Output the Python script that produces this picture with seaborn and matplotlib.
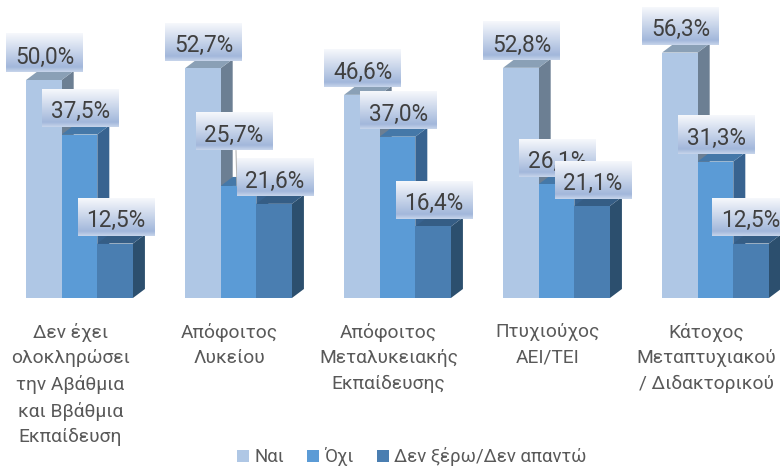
import matplotlib
matplotlib.use('Agg')
import matplotlib.pyplot as plt
from matplotlib.colors import LinearSegmentedColormap
from matplotlib.patches import Polygon
from matplotlib.transforms import ScaledTranslation
import numpy as np
import pandas as pd
import seaborn as sns

# data
education = ['Δεν έχει\nολοκληρώσει\nτην Αβάθμια\nκαι Ββάθμια\nΕκπαίδευση',
             'Απόφοιτος\nΛυκείου',
             'Απόφοιτος\nΜεταλυκειακής\nΕκπαίδευσης',
             'Πτυχιούχος\nΑΕΙ/ΤΕΙ',
             'Κάτοχος\nΜεταπτυχιακού\n/ Διδακτορικού']
answers = ['Ναι', 'Όχι', 'Δεν ξέρω/Δεν απαντώ']
yes = [50.0, 52.7, 46.6, 52.8, 56.3]
no = [37.5, 25.7, 37.0, 26.1, 31.3]
dont_know = [12.5, 21.6, 16.4, 21.1, 12.5]

front = ['#AFC7E5', '#5B9BD6', '#4A7EB1']
top = ['#8AA0B6', '#4578A8', '#355D85']
side = ['#6C7F93', '#386390', '#2C4F6E']

df = pd.DataFrame({'edu': education, answers[0]: yes, answers[1]: no, answers[2]: dont_know})
df = df.melt(id_vars='edu', var_name='answer', value_name='pct')

sns.set_theme(style='white')
plt.rcParams['font.family'] = ['Roboto', 'DejaVu Sans']

PX_X = 159.0   # pixels per category
PX_Y = 4.36    # pixels per percent
BASE = 298

fig = plt.figure(figsize=(7.8, 4.68), dpi=100)
ax = fig.add_axes([0, 1 - BASE / 468, 1, BASE / 468])
sns.barplot(data=df, x='edu', y='pct', hue='answer', order=education, hue_order=answers,
            palette=front, width=0.672, saturation=1, gap=0, linewidth=0, ax=ax, zorder=3)

ax.set_xlim(-79.5 / PX_X, (780 - 79.5) / PX_X)
ax.set_ylim(0, BASE / PX_Y)
dx = 12 / PX_X
dy = 9 / PX_Y

# labels moved away from their bar in the original: (series, group): px
nudge = {(1, 1): (-5.5, 28), (2, 4): (-1.5, 0)}

grad = LinearSegmentedColormap.from_list('box', [(0, '#F6F8FC'), (0.88, '#A2B7DB'), (1, '#C6D4EA')])
box = np.linspace(0, 1, 64).reshape(-1, 1)
box_w = 38.5 / PX_X
box_h = 19 / PX_Y

z = 10
for s, cont in enumerate(ax.containers[:3]):
    for g, bar in enumerate(cont):
        xl = bar.get_x()
        xr = xl + bar.get_width()
        h = bar.get_height()
        ax.add_patch(Polygon([(xr, 0), (xr + dx, dy), (xr + dx, h + dy), (xr, h)],
                             fc=side[s], ec='none', zorder=2, clip_on=False))
        ax.add_patch(Polygon([(xl, h), (xl + dx, h + dy), (xr + dx, h + dy), (xr, h)],
                             fc=top[s], ec='none', zorder=2, clip_on=False))

for s, cont in enumerate(ax.containers[:3]):
    for g, bar in enumerate(cont):
        h = bar.get_height()
        nx, ny = nudge.get((s, g), (0, 0))
        cx = bar.get_x() + bar.get_width() / 2 + 1 / PX_X + nx / PX_X
        cy = h + (26.5 + ny) / PX_Y
        if (s, g) == (1, 1):
            ax.plot([cx + 2 / PX_X, cx + 3 / PX_X], [cy - box_h, h], color='#B5B5B5', lw=0.8, zorder=z - 1)
        ax.imshow(box, cmap=grad, aspect='auto', zorder=z, interpolation='bilinear',
                  extent=(cx - box_w, cx + box_w, cy - box_h, cy + box_h), clip_on=False)
        ax.text(cx, cy - 0.3, f'{h:.1f}%'.replace('.', ','), ha='center', va='center_baseline',
                fontsize=16.3, color='#404040', zorder=z + 1)
        z += 2

ax.set_xlim(-79.5 / PX_X, (780 - 79.5) / PX_X)
ax.set_ylim(0, BASE / PX_Y)
ax.set_xlabel('')
ax.set_ylabel('')
ax.set_yticks([])
ax.tick_params(axis='x', length=0, pad=18, labelsize=13.8, colors='#595959')
# category labels sit a bit left of their group in the original
shift = ScaledTranslation(-9 / 100, 0, fig.dpi_scale_trans)
for lab in ax.get_xticklabels():
    lab.set_linespacing(1.52)
    lab.set_transform(lab.get_transform() + shift)
sns.despine(ax=ax, left=True, bottom=True)

sns.move_legend(ax, 'center', bbox_to_anchor=(0.528, (BASE - 457) / BASE), bbox_transform=ax.transAxes,
                ncol=3, frameon=False, title=None, fontsize=13.4, labelcolor='#595959',
                handlelength=0.65, handleheight=0.65, handletextpad=0.27, columnspacing=1.25)

fig.savefig('out.png', dpi=100)
